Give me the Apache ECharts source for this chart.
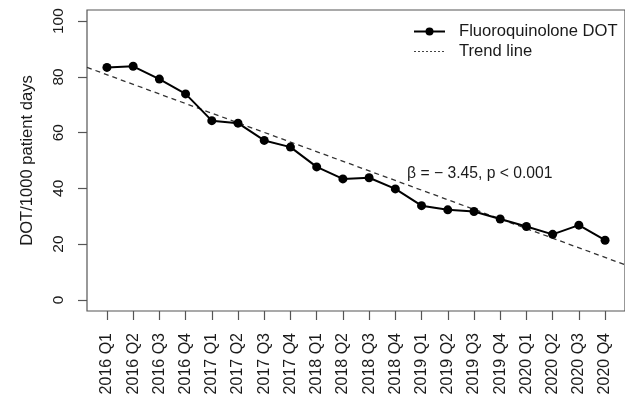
<!DOCTYPE html>
<html>
<head>
<meta charset="utf-8">
<script src="https://cdn.jsdelivr.net/npm/echarts@6/dist/echarts.min.js"></script>
<style>
  html, body { margin: 0; padding: 0; background: #fff; }
  #chart { width: 625px; height: 400px; }
</style>
</head>
<body>
<div id="chart"></div>
<script>
// quarters on the x axis
var quarters = ['2016 Q1', '2016 Q2', '2016 Q3', '2016 Q4',
  '2017 Q1', '2017 Q2', '2017 Q3', '2017 Q4',
  '2018 Q1', '2018 Q2', '2018 Q3', '2018 Q4',
  '2019 Q1', '2019 Q2', '2019 Q3', '2019 Q4',
  '2020 Q1', '2020 Q2', '2020 Q3', '2020 Q4'];
// fluoroquinolone DOT per 1000 patient days
var dotValues = [83.4, 83.8, 79.2, 73.9, 64.3, 63.4, 57.2, 54.8, 47.7, 43.4,
  43.8, 39.8, 33.8, 32.3, 31.7, 29.0, 26.3, 23.5, 26.8, 21.4];
// trend line end points (x in quarter index)
var trendX = [-0.76, 19.76];
var trendY = [83.4, 12.6];
var yTicks = [0, 20, 40, 60, 80, 100];
var annotation = '\u03b2 = \u2212 3.45, p < 0.001';

var FONT = '"Liberation Sans", Arial, sans-serif';
var INK = '#1a1a1a';

var idx = quarters.map(function(q, i) { return i; });
var mainData = dotValues.map(function(v, i) { return [i, v]; });
var trendData = trendX.map(function(x, i) { return [x, trendY[i]]; });

var chart = echarts.init(document.getElementById('chart'));
var option = {
  animation: false,
  backgroundColor: '#fff',
  textStyle: { fontFamily: FONT, color: INK },
  grid: {
    left: 87, top: 10, width: 541, height: 301,
    show: true, borderColor: '#555', borderWidth: 1.2,
    backgroundColor: 'transparent'
  },
  legend: {
    orient: 'vertical',
    left: 413, top: 23, padding: 0,
    itemWidth: 31, itemHeight: 10, itemGap: 3,
    textStyle: { fontFamily: FONT, fontSize: 16.6, color: INK, padding: [0, 0, 0, 9] },
    data: [
      { name: 'Fluoroquinolone DOT' },
      { name: 'Trend line', itemStyle: { color: 'rgba(0,0,0,0)', borderWidth: 0 },
        lineStyle: { type: [2, 2], width: 1, color: '#444' } }
    ]
  },
  xAxis: {
    type: 'value', min: trendX[0], max: trendX[1],
    axisLine: { show: false, onZero: false },
    splitLine: { show: false },
    axisTick: { show: true, inside: false, length: 9, customValues: idx, lineStyle: { color: '#555', width: 1.2 } },
    axisLabel: {
      customValues: idx, rotate: 90, margin: 22,
      fontFamily: FONT, fontSize: 16, color: INK,
      formatter: function(v) { return quarters[Math.round(v)]; }
    }
  },
  yAxis: {
    type: 'value', min: -4, max: 104,
    name: 'DOT/1000 patient days', nameLocation: 'middle', nameGap: 51,
    nameTextStyle: { fontFamily: FONT, fontSize: 16.6, color: INK },
    axisLine: { show: false, onZero: false },
    splitLine: { show: false },
    axisTick: { show: true, inside: false, length: 9, customValues: yTicks, lineStyle: { color: '#555', width: 1.2 } },
    axisLabel: {
      customValues: yTicks, rotate: 90, margin: 20,
      fontFamily: FONT, fontSize: 15.5, color: INK
    }
  },
  series: [
    {
      name: 'Fluoroquinolone DOT', type: 'line', data: mainData,
      symbol: 'circle', symbolSize: 9,
      color: '#000',
      lineStyle: { color: '#000', width: 2 },
      itemStyle: { color: '#000' },
      z: 3
    },
    {
      name: 'Trend line', type: 'line', data: trendData,
      symbol: 'none', color: '#444',
      lineStyle: { color: '#333', width: 1.3, type: [5, 4] },
      z: 2
    }
  ],
  graphic: [{
    type: 'text', left: 407, top: 166,
    style: { text: annotation, font: '15.7px ' + FONT, fill: INK }
  }]
};
chart.setOption(option);
</script>
</body>
</html>
